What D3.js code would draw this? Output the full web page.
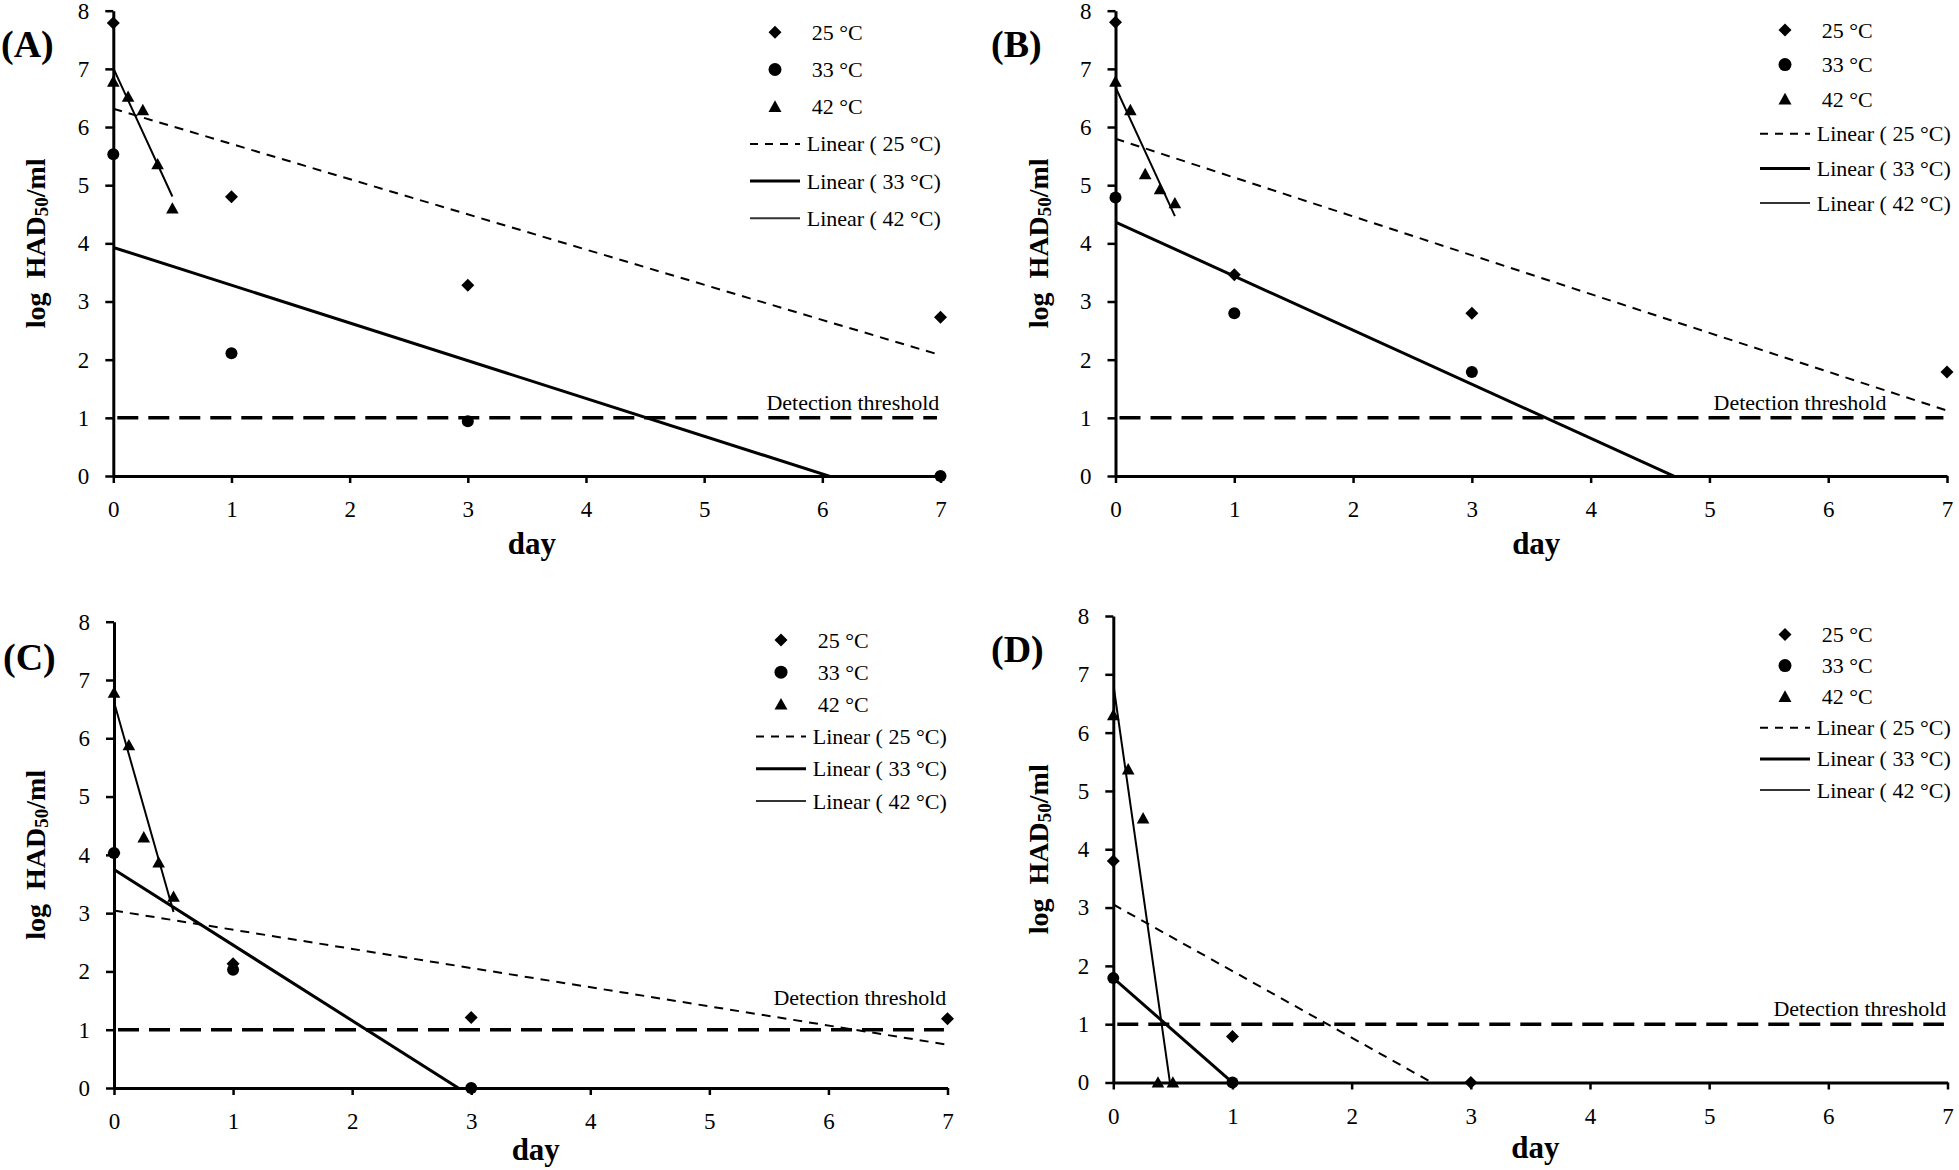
<!DOCTYPE html>
<html>
<head>
<meta charset="utf-8">
<script src="https://cdn.jsdelivr.net/npm/d3@7"></script>
<style>
  html, body { margin: 0; padding: 0; background: #fff; }
  svg { display: block; font-family: 'Liberation Serif', 'Times New Roman', Times, serif; }
  svg text { font-family: 'Liberation Serif', 'Times New Roman', Times, serif; fill: #000; }
</style>
</head>
<body>
<script>
// ---------- data ----------
const panelNames = ["(A)", "(B)", "(C)", "(D)"];
const dayTicks = [0, 1, 2, 3, 4, 5, 6, 7];
const valueTicks = [0, 1, 2, 3, 4, 5, 6, 7, 8];
const legendLabels = ["25 °C", "33 °C", "42 °C", "Linear ( 25 °C)", "Linear ( 33 °C)", "Linear ( 42 °C)"];
const thresholdLabel = "Detection threshold";
const thresholdValue = 1;
const studyEndDay = 7;

const daysLong = [0, 1, 3, 7];
const daysShort = [0, 1, 3];
const daysTwo = [0, 1];
const daysHeat = [0, 0.125, 0.25, 0.375, 0.5];

// Panel A
const a25 = [7.79, 4.8, 3.28, 2.73];
const a33 = [5.53, 2.11, 0.94, 0];
const a42 = [6.78, 6.52, 6.29, 5.36, 4.6];
// Panel B
const b25 = [7.8, 3.46, 2.8, 1.79];
const b33 = [4.79, 2.8, 1.79];
const b42 = [6.78, 6.29, 5.19, 4.93, 4.69];
// Panel C
const c25 = [4.03, 2.13, 1.21, 1.19];
const c33 = [4.03, 2.03, 0];
const c42 = [6.78, 5.88, 4.3, 3.87, 3.28];
// Panel D
const d25 = [3.8, 0.79, 0];
const d33 = [1.79, 0];
const d42 = [6.3, 5.37, 4.53, 0, 0];

// ---------- layout ----------
const W = 1959, H = 1170;
const FONT = "'Liberation Serif', 'Times New Roman', Times, serif";
const layouts = [
  { x0: 113.3, x1: 940.5, y0: 476, y1: 10.7, legX: 775, legY: 32.3, legStep: 37.2, labX: 1, labY: 57, yTitleX: 35, thrEnd: 6.99, thrLift: 8, dayY: 78 },
  { x0: 1115.5, x1: 1947, y0: 476, y1: 10.7, legX: 1785, legY: 30, legStep: 34.6, labX: 991, labY: 57, yTitleX: 1038, thrEnd: 6.49, thrLift: 8, dayY: 78 },
  { x0: 114, x1: 947.5, y0: 1088, y1: 621.7, legX: 781, legY: 640, legStep: 32.2, labX: 3, labY: 670, yTitleX: 35, thrEnd: 6.99, thrLift: 25, dayY: 72 },
  { x0: 1113.3, x1: 1947.5, y0: 1082.5, y1: 616, legX: 1785, legY: 634.5, legStep: 31.1, labX: 991, labY: 662, yTitleX: 1038, thrEnd: 6.99, thrLift: 8, dayY: 75 }
];

const panels = [
  { name: panelNames[0], s25: [daysLong, a25], s33: [daysLong, a33], s42: [daysHeat, a42], L: layouts[0] },
  { name: panelNames[1], s25: [daysLong, b25], s33: [daysShort, b33], s42: [daysHeat, b42], L: layouts[1] },
  { name: panelNames[2], s25: [daysLong, c25], s33: [daysShort, c33], s42: [daysHeat, c42], L: layouts[2] },
  { name: panelNames[3], s25: [daysShort, d25], s33: [daysTwo, d33], s42: [daysHeat, d42], L: layouts[3] }
];

const diamond = r => `M0,${-r}L${r},0L0,${r}L${-r},0Z`;
const triangle = r => `M0,${-r}L${r},${r * 0.8}L${-r},${r * 0.8}Z`;

function linReg(xs, ys) {
  const mx = d3.mean(xs), my = d3.mean(ys);
  let sxy = 0, sxx = 0;
  xs.forEach((x, i) => { sxy += (x - mx) * (ys[i] - my); sxx += (x - mx) * (x - mx); });
  const slope = sxy / sxx;
  return { slope, intercept: my - slope * mx };
}

const svg = d3.select("body").append("svg").attr("width", W).attr("height", H);
svg.append("rect").attr("width", W).attr("height", H).attr("fill", "#fff");
const defs = svg.append("defs");

panels.forEach((p, pi) => {
  const L = p.L;
  const x = d3.scaleLinear().domain([0, 7]).range([L.x0, L.x1]);
  const y = d3.scaleLinear().domain([0, 8]).range([L.y0, L.y1]);
  const g = svg.append("g");

  const clipId = "clip" + pi;
  defs.append("clipPath").attr("id", clipId).append("rect")
    .attr("x", L.x0).attr("y", L.y1).attr("width", L.x1 - L.x0 + 2).attr("height", L.y0 - L.y1);

  // axes
  const yAxis = d3.axisLeft(y).tickValues(valueTicks).tickSize(8).tickSizeOuter(0).tickPadding(16).tickFormat(d3.format("d"));
  const xAxis = d3.axisBottom(x).tickValues(dayTicks).tickSize(7).tickSizeOuter(0).tickPadding(18).tickFormat(d3.format("d"));
  const gy = g.append("g").attr("transform", `translate(${L.x0},0)`).call(yAxis);
  const gx = g.append("g").attr("transform", `translate(0,${L.y0})`).call(xAxis);
  [gx, gy].forEach(a => {
    a.attr("font-family", FONT).attr("font-size", 23);
    a.select(".domain").attr("stroke", "#000").attr("stroke-width", 3);
    a.selectAll(".tick line").attr("stroke", "#000").attr("stroke-width", 2.5);
    a.selectAll(".tick text").attr("font-size", 23).attr("font-family", FONT).attr("fill", "#000");
  });

  // axis titles
  const yt = g.append("text")
    .attr("transform", `translate(${L.yTitleX},${(L.y0 + L.y1) / 2}) rotate(-90)`)
    .attr("text-anchor", "middle").attr("dominant-baseline", "central")
    .attr("font-weight", "bold").attr("font-size", 28).style("white-space", "pre");
  yt.append("tspan").text("log  HAD");
  yt.append("tspan").attr("font-size", 19).attr("dy", 6).text("50");
  yt.append("tspan").attr("dy", -6).text("/ml");

  g.append("text").attr("x", (L.x0 + L.x1) / 2 + 5).attr("y", L.y0 + L.dayY)
    .attr("text-anchor", "middle").attr("font-weight", "bold").attr("font-size", 31).text("day");

  // panel label
  g.append("text").attr("x", L.labX).attr("y", L.labY)
    .attr("font-weight", "bold").attr("font-size", 38).text(p.name);

  const plot = g.append("g").attr("clip-path", `url(#${clipId})`);

  // detection threshold
  g.append("line")
    .attr("x1", x(0) + 4).attr("x2", x(6.97))
    .attr("y1", y(thresholdValue)).attr("y2", y(thresholdValue))
    .attr("stroke", "#000").attr("stroke-width", 3.5).attr("stroke-dasharray", "21,10");
  g.append("text").attr("x", x(L.thrEnd)).attr("y", y(thresholdValue) - L.thrLift)
    .attr("text-anchor", "end").attr("font-size", 22).text(thresholdLabel);

  // trend lines (25 °C and 33 °C over the whole study period, 42 °C over its own range)
  const trendStyles = [
    { s: p.s25, w: 2, dash: "9,7", full: true },
    { s: p.s33, w: 3, dash: null, full: true },
    { s: p.s42, w: 2, dash: null, full: false }
  ];
  trendStyles.forEach(t => {
    const [xs, ys] = t.s;
    const r = linReg(xs, ys);
    const xa = d3.min(xs), xb = t.full ? studyEndDay : d3.max(xs);
    const ln = plot.append("line")
      .attr("x1", x(xa)).attr("y1", y(r.intercept + r.slope * xa))
      .attr("x2", x(xb)).attr("y2", y(r.intercept + r.slope * xb))
      .attr("stroke", "#000").attr("stroke-width", t.w);
    if (t.dash) ln.attr("stroke-dasharray", t.dash);
  });

  // markers
  const [x25, v25] = p.s25, [x33, v33] = p.s33, [x42, v42] = p.s42;
  g.selectAll(null).data(x25.map((d, i) => [d, v25[i]])).enter().append("path")
    .attr("d", diamond(6.5)).attr("transform", d => `translate(${x(d[0])},${y(d[1])})`).attr("fill", "#000");
  g.selectAll(null).data(x33.map((d, i) => [d, v33[i]])).enter().append("circle")
    .attr("cx", d => x(d[0])).attr("cy", d => y(d[1])).attr("r", 6).attr("fill", "#000");
  g.selectAll(null).data(x42.map((d, i) => [d, v42[i]])).enter().append("path")
    .attr("d", triangle(6.3)).attr("transform", d => `translate(${x(d[0])},${y(d[1])})`).attr("fill", "#000");

  // legend
  const lg = g.append("g");
  legendLabels.forEach((lab, i) => {
    const cy = L.legY + i * L.legStep;
    if (i === 0) lg.append("path").attr("d", diamond(6.5)).attr("transform", `translate(${L.legX},${cy})`);
    if (i === 1) lg.append("circle").attr("cx", L.legX).attr("cy", cy).attr("r", 6.5);
    if (i === 2) lg.append("path").attr("d", triangle(6.5)).attr("transform", `translate(${L.legX},${cy})`);
    if (i >= 3) {
      const ln = lg.append("line").attr("x1", L.legX - 25).attr("x2", L.legX + 25)
        .attr("y1", cy).attr("y2", cy).attr("stroke", i === 5 ? "#333" : "#000")
        .attr("stroke-width", i === 4 ? 3 : 2);
      if (i === 3) ln.attr("stroke-dasharray", "8,7");
    }
    lg.append("text").attr("x", L.legX + (i < 3 ? 36.7 : 31.7)).attr("y", cy + 7.5)
      .attr("font-size", 22).text(lab);
  });
});
</script>
</body>
</html>
